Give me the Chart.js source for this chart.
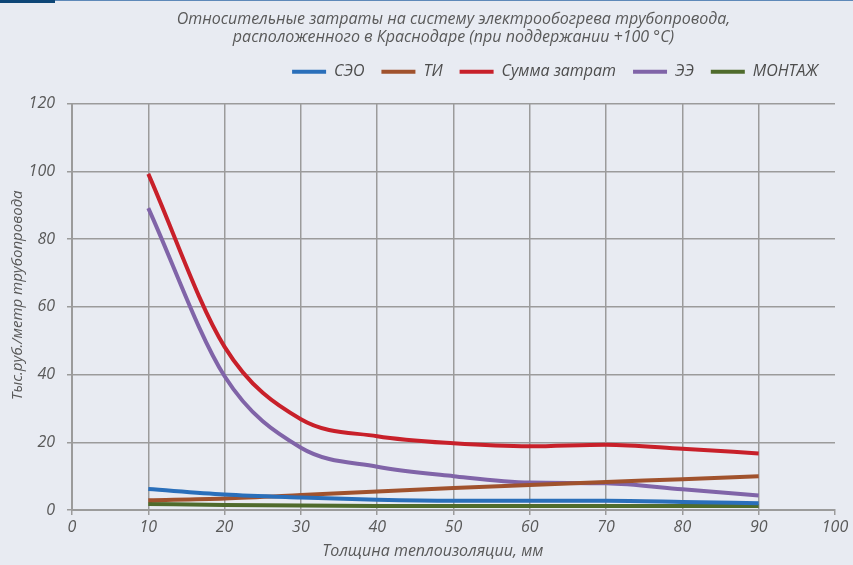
<!DOCTYPE html>
<html>
<head>
<meta charset="utf-8">
<script src="https://cdn.jsdelivr.net/npm/chart.js@4.4.1/dist/chart.umd.min.js"></script>
<style>
    html, body { margin: 0; padding: 0; background: #e8ebf2; }
    #wrap { position: relative; width: 853px; height: 565px; }
    #topLine { position: absolute; left: 0; top: 0; width: 853px; height: 1px; background: #5e89b9; }
    #topMark { position: absolute; left: 0; top: 0; width: 55px; height: 3px; background: #0d4677; }
</style>
</head>
<body>
<div id="wrap">
    <canvas id="costChart" width="853" height="565"></canvas>
    <div id="topLine"></div>
    <div id="topMark"></div>
</div>
<script>
// Insulation thickness, mm
const thickness = [10, 20, 30, 40, 50, 60, 70, 80, 90];

// Costs, thousand rub per metre of pipeline
const seoCost = [6.2, 4.6, 3.7, 3.0, 2.7, 2.7, 2.7, 2.4, 2.0];
const tiCost = [2.9, 3.4, 4.4, 5.5, 6.5, 7.4, 8.3, 9.1, 10.0];
const totalCost = [99.3, 48.2, 26.8, 21.8, 19.7, 18.8, 19.3, 18.1, 16.7];
const eeCost = [89.2, 39.5, 18.4, 12.8, 10.0, 8.1, 7.9, 6.1, 4.3];
const mountCost = [1.8, 1.5, 1.3, 1.2, 1.2, 1.2, 1.2, 1.2, 1.2];

const xTicks = [0, 10, 20, 30, 40, 50, 60, 70, 80, 90, 100];
const yTicks = [0, 20, 40, 60, 80, 100, 120];

const seriesNames = ['СЭО', 'ТИ', 'Сумма затрат', 'ЭЭ', 'МОНТАЖ'];
const seriesColors = ['#2a6fba', '#a0522d', '#c8202a', '#8064a8', '#4f6b2c'];

const FONT = '"Open Sans", sans-serif';
const TEXT_COLOR = '#595959';
const GRID_COLOR = '#9b9b9b';

function toPoints(values) {
    return values.map((v, i) => ({ x: thickness[i], y: v }));
}

function makeDataset(index, values) {
    return {
        label: seriesNames[index],
        data: toPoints(values),
        borderColor: seriesColors[index],
        backgroundColor: seriesColors[index],
        borderWidth: 4,
        pointRadius: 0,
        cubicInterpolationMode: 'monotone',
        fill: false
    };
}

document.addEventListener('DOMContentLoaded', function() {
    const ctx = document.getElementById('costChart').getContext('2d');
    new Chart(ctx, {
        type: 'line',
        data: {
            datasets: [
                makeDataset(0, seoCost),
                makeDataset(1, tiCost),
                makeDataset(2, totalCost),
                makeDataset(3, eeCost),
                makeDataset(4, mountCost)
            ]
        },
        options: {
            responsive: false,
            animation: false,
            layout: {
                padding: { left: 0, right: 18, top: 0, bottom: 4 }
            },
            plugins: {
                title: {
                    display: true,
                    fullSize: false,
                    text: [
                        'Относительные затраты на систему электрообогрева трубопровода,',
                        'расположенного в Краснодаре (при поддержании +100 °C)'
                    ],
                    color: TEXT_COLOR,
                    font: { family: FONT, size: 16, style: 'italic', weight: 'normal', lineHeight: 1.15 },
                    padding: { top: 10, bottom: 0 }
                },
                legend: {
                    display: true,
                    position: 'top',
                    align: 'end',
                    labels: {
                        usePointStyle: true,
                        pointStyle: 'line',
                        pointStyleWidth: 34,
                        boxHeight: 4,
                        padding: 17,
                        color: '#4d4d4d',
                        font: { family: FONT, size: 16, style: 'italic' }
                    }
                },
                // empty spacer below the legend
                subtitle: {
                    display: true,
                    text: '',
                    weight: 500,
                    font: { size: 1, lineHeight: 1 },
                    padding: { top: 13, bottom: 0 }
                },
                tooltip: { enabled: false }
            },
            scales: {
                x: {
                    type: 'linear',
                    min: 0,
                    max: 100,
                    afterBuildTicks: function(axis) {
                        axis.ticks = xTicks.map(v => ({ value: v }));
                    },
                    afterFit: function(axis) {
                        axis.height = 51;
                    },
                    ticks: {
                        color: TEXT_COLOR,
                        padding: 3,
                        font: { family: FONT, size: 16, style: 'italic' }
                    },
                    grid: {
                        color: c => (c.tick && c.tick.value === 100) ? 'rgba(0,0,0,0)' : GRID_COLOR,
                        tickColor: GRID_COLOR,
                        lineWidth: 1.5,
                        tickLength: 5
                    },
                    border: { color: GRID_COLOR, width: 2 },
                    title: {
                        display: true,
                        text: 'Толщина теплоизоляции, мм' + '\u00A0'.repeat(10),
                        color: TEXT_COLOR,
                        font: { family: FONT, size: 16, style: 'italic' },
                        padding: { top: 0, bottom: 0 }
                    }
                },
                y: {
                    min: 0,
                    max: 120,
                    afterBuildTicks: function(axis) {
                        axis.ticks = yTicks.map(v => ({ value: v }));
                    },
                    afterFit: function(axis) {
                        axis.width = 72;
                    },
                    ticks: {
                        color: TEXT_COLOR,
                        padding: 12,
                        font: { family: FONT, size: 16, style: 'italic' }
                    },
                    grid: {
                        color: GRID_COLOR,
                        tickColor: GRID_COLOR,
                        lineWidth: 1.5,
                        tickLength: 5
                    },
                    border: { color: GRID_COLOR, width: 2 },
                    title: {
                        display: true,
                        text: '\u00A0'.repeat(6) + 'Тыс.руб./метр трубопровода',
                        color: TEXT_COLOR,
                        font: { family: FONT, size: 15, style: 'italic' },
                        padding: { top: 9, bottom: 0 }
                    }
                }
            }
        }
    });
});
</script>
</body>
</html>
